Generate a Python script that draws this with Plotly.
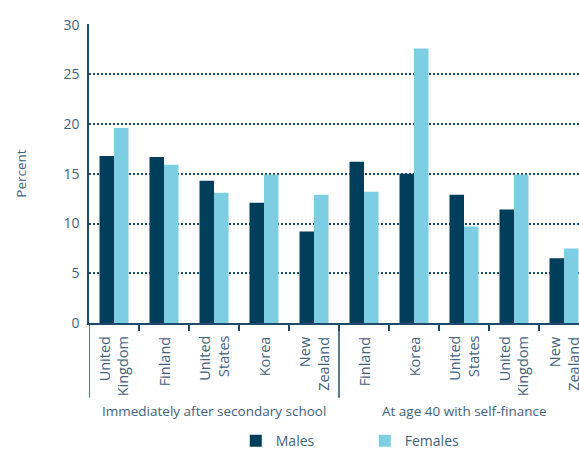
import plotly.graph_objects as go

groups = ["Immediately after secondary school", "At age 40 with self-finance"]
categories = [
    "United<br>Kingdom", "Finland", "United<br>States", "Korea", "New<br>Zealand",
    "Finland", "Korea", "United<br>States", "United<br>Kingdom", "New<br>Zealand",
]
group_sizes = [5, 5]
males = [16.8, 16.7, 14.3, 12.1, 9.2, 16.2, 15.0, 12.9, 11.4, 6.5]
females = [19.6, 15.9, 13.1, 14.9, 12.9, 13.2, 27.6, 9.7, 14.9, 7.5]
y_ticks = [0, 5, 10, 15, 20, 25, 30]

DARK = "#003E5C"
LIGHT = "#7ECEE3"
TEXT = "#3F627D"
LINE = "#1E4B6B"
FONT = "Open Sans"

xs = list(range(len(categories)))

fig = go.Figure()
fig.add_trace(go.Bar(x=xs, y=males, name="Males", marker=dict(color=DARK, line=dict(width=0))))
fig.add_trace(go.Bar(x=xs, y=females, name="Females", marker=dict(color=LIGHT, line=dict(width=0))))

shapes = []
annotations = []
# category labels (rotated, top-aligned under the axis)
for x, label in zip(xs, categories):
    annotations.append(dict(text=label, xref="x", yref="paper", x=x, y=-0.038,
                            showarrow=False, textangle=-90, align="right",
                            xanchor="center", yanchor="top",
                            font=dict(family=FONT, size=14.5, color=TEXT)))
# group separators & labels
start = 0
for g, size in zip(groups, group_sizes):
    shapes.append(dict(type="line", xref="x", yref="paper", x0=start - 0.5, x1=start - 0.5,
                       y0=0, y1=-0.25, line=dict(color=LINE, width=1.5)))
    annotations.append(dict(text=g, xref="x", yref="paper", x=start + (size - 1) / 2, y=-0.295,
                            showarrow=False, xanchor="center", yanchor="middle",
                            font=dict(family=FONT, size=13.5, color=TEXT)))
    start += size

fig.update_layout(
    width=579, height=476,
    margin=dict(l=89, r=0, t=24, b=153),
    paper_bgcolor="white", plot_bgcolor="white",
    barmode="group", bargap=0.42, bargroupgap=0,
    font=dict(family=FONT, color=TEXT, size=13),
    shapes=shapes, annotations=annotations,
    legend=dict(orientation="h", xref="container", yref="container", x=0.63, y=0.073,
                xanchor="center", yanchor="middle", entrywidth=84,
                font=dict(family=FONT, size=14, color=TEXT)),
    xaxis=dict(
        range=[-0.5, 9.3], tickmode="array", tickvals=xs, ticktext=[""] * len(xs),
        ticks="", showline=True, linecolor=LINE, linewidth=1.5,
        showgrid=False, zeroline=False,
        minor=dict(tickmode="array", tickvals=[i + 0.5 for i in xs], ticks="outside",
                   ticklen=6, tickcolor=LINE, tickwidth=1.5, showgrid=False),
    ),
    yaxis=dict(
        range=[0, 30.06], tickmode="array", tickvals=y_ticks, showline=True, linecolor=LINE,
        linewidth=1.5, showgrid=True, gridcolor=LINE, griddash="1.5px,2.5px", gridwidth=1.5,
        zeroline=False, ticks="", ticklabelstandoff=5,
        tickfont=dict(family=FONT, size=14, color=TEXT),
        title=dict(text="Percent", standoff=34, font=dict(family=FONT, size=13.5, color=TEXT)),
    ),
)

fig.write_html("out.html")
